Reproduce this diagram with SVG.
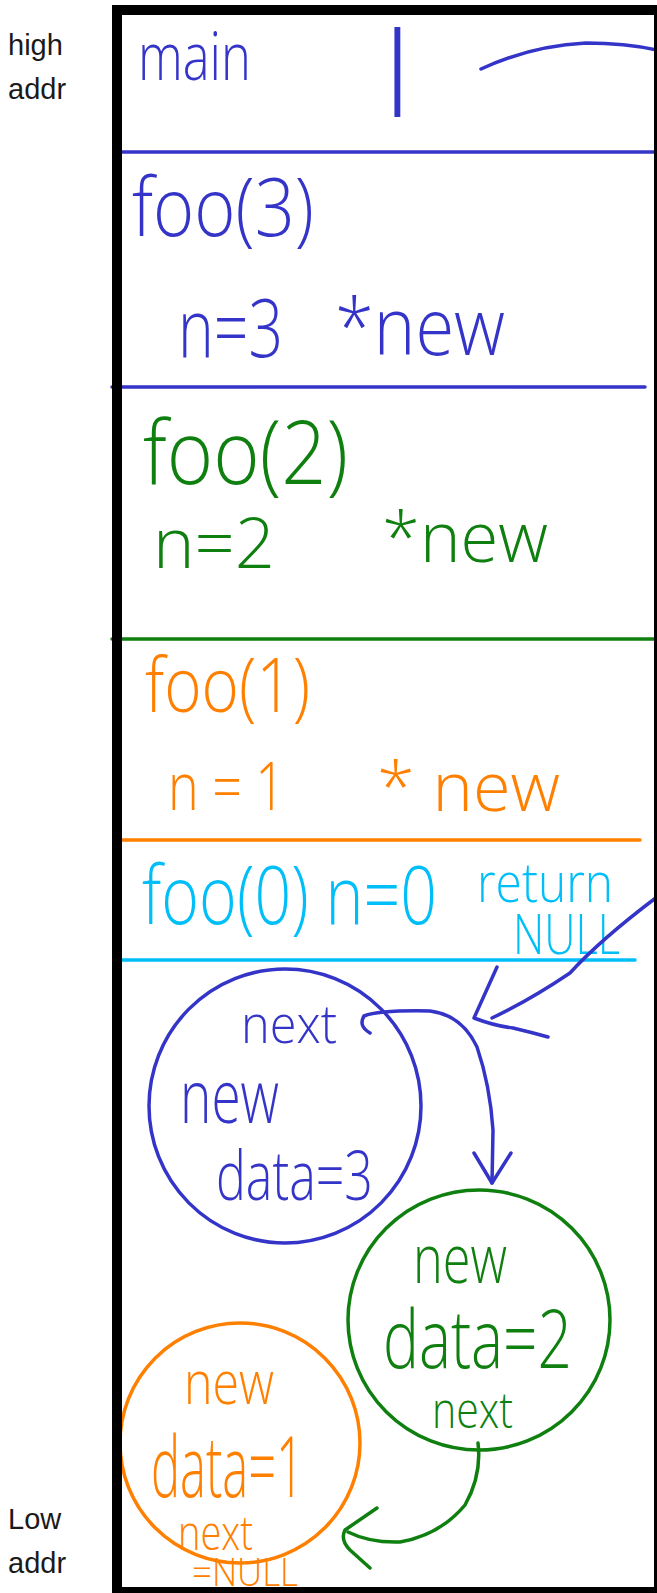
<svg xmlns="http://www.w3.org/2000/svg" width="657" height="1593" viewBox="0 0 657 1593">
<style>
.hw{font-family:"Open Sans",Lato,"DejaVu Sans",sans-serif;font-weight:300;}
.lbl{font-family:"Liberation Sans",Arial,sans-serif;font-size:29px;fill:#1a1a1a;}
.b{fill:#3434c8;} .g{fill:#0f7f0f;} .o{fill:#ff8000;} .c{fill:#00bff8;}
.sb{stroke:#3434c8;} .sg{stroke:#0f7f0f;} .so{stroke:#ff8000;} .sc{stroke:#00bff8;}
.ln{fill:none;stroke-width:3.5;stroke-linecap:round;stroke-linejoin:round;}
</style>
<rect width="657" height="1593" fill="#ffffff"/>

<g id="axis-labels">
<text class="lbl"><tspan x="8" y="55">high</tspan><tspan x="8" y="99">addr</tspan></text>
<text class="lbl"><tspan x="8" y="1529">Low</tspan><tspan x="8" y="1573">addr</tspan></text>
</g>

<g id="frame-main">
<text class="hw b" x="138" y="80" font-size="66" textLength="113" lengthAdjust="spacingAndGlyphs">main</text>
<text class="hw b" x="384" y="117" font-size="118">l</text>
<line class="ln sb" x1="116" y1="152" x2="657" y2="152"/>
</g>

<g id="frame-foo3">
<text class="hw b" x="132" y="236" font-size="82" textLength="182" lengthAdjust="spacingAndGlyphs">foo(3)</text>
<text class="hw b" x="178" y="357" font-size="82" textLength="105" lengthAdjust="spacingAndGlyphs">n=3</text>
<text class="hw b" x="335" y="355" font-size="80" textLength="170" lengthAdjust="spacingAndGlyphs">*new</text>
<line class="ln sb" x1="112" y1="387" x2="645" y2="387"/>
</g>

<g id="frame-foo2">
<text class="hw g" x="143" y="484" font-size="88" textLength="205" lengthAdjust="spacingAndGlyphs">foo(2)</text>
<text class="hw g" x="153" y="568" font-size="70" textLength="122" lengthAdjust="spacingAndGlyphs">n=2</text>
<text class="hw g" x="382" y="562" font-size="70" textLength="166" lengthAdjust="spacingAndGlyphs">*new</text>
<line class="ln sg" x1="112" y1="639" x2="657" y2="639"/>
</g>

<g id="frame-foo1">
<text class="hw o" x="145" y="712" font-size="76" textLength="165" lengthAdjust="spacingAndGlyphs">foo(1)</text>
<text class="hw o" x="168" y="810" font-size="66" textLength="117" lengthAdjust="spacingAndGlyphs">n = 1</text>
<text class="hw o" x="377" y="811" font-size="68" textLength="183" lengthAdjust="spacingAndGlyphs">* new</text>
<line class="ln so" x1="117" y1="840" x2="640" y2="840"/>
</g>

<g id="frame-foo0">
<text class="hw c" x="142" y="924" font-size="82" textLength="295" lengthAdjust="spacingAndGlyphs">foo(0) n=0</text>
<text class="hw c"><tspan x="477" y="902" font-size="56" textLength="136" lengthAdjust="spacingAndGlyphs">return</tspan><tspan x="513" y="954" font-size="56" textLength="107" lengthAdjust="spacingAndGlyphs">NULL</tspan></text>
<line class="ln sc" x1="117" y1="960" x2="635" y2="960"/>
</g>

<g id="node-3">
<ellipse class="ln sb" cx="285" cy="1106" rx="136" ry="137" stroke-width="3"/>
<text class="hw b"><tspan x="241" y="1043" font-size="54" textLength="96" lengthAdjust="spacingAndGlyphs">next</tspan><tspan x="180" y="1123" font-size="74" textLength="99" lengthAdjust="spacingAndGlyphs">new</tspan><tspan x="216" y="1200" font-size="68" textLength="157" lengthAdjust="spacingAndGlyphs">data=3</tspan></text>
</g>

<g id="node-2">
<ellipse class="ln sg" cx="479" cy="1320" rx="131" ry="130" stroke-width="3"/>
<text class="hw g"><tspan x="413" y="1283" font-size="68" textLength="94" lengthAdjust="spacingAndGlyphs">new</tspan><tspan x="383" y="1368" font-size="82" textLength="189" lengthAdjust="spacingAndGlyphs">data=2</tspan><tspan x="432" y="1428" font-size="50" textLength="81" lengthAdjust="spacingAndGlyphs">next</tspan></text>
</g>

<g id="node-1">
<ellipse class="ln so" cx="240" cy="1443" rx="120" ry="120" stroke-width="3"/>
<text class="hw o"><tspan x="184" y="1404" font-size="60" textLength="90" lengthAdjust="spacingAndGlyphs">new</tspan><tspan x="151" y="1497" font-size="84" textLength="153" lengthAdjust="spacingAndGlyphs">data=1</tspan><tspan x="178" y="1550" font-size="48" textLength="75" lengthAdjust="spacingAndGlyphs">next</tspan><tspan x="192" y="1586" font-size="38" textLength="106" lengthAdjust="spacingAndGlyphs">=NULL</tspan></text>
</g>

<g id="connectors">
<path class="ln sb" d="M481,69 Q530,46 586,43 Q625,43 657,50"/>
<path class="ln sb" d="M657,897 Q600,940 570,973 Q530,1000 492,1018"/>
<path class="ln sb" d="M497,967 L474,1018 Q495,1026 513,1028 Q530,1032 548,1037"/>
<path class="ln sb" d="M370,1033 Q358,1026 364,1016 Q380,1010 430,1011 Q462,1015 477,1047 Q490,1085 493,1130 L492,1183"/>
<path class="ln sb" d="M474,1153 L492,1183 L511,1153"/>
<path class="ln sg" d="M478,1443 Q482,1475 465,1505 Q440,1535 400,1542 Q370,1543 348,1532"/>
<path class="ln sg" d="M377,1508 L345,1530 Q340,1540 350,1550 L370,1568"/>
</g>

<g id="stack-border">
<rect x="117" y="10" width="542" height="1582" fill="none" stroke="#000000" stroke-width="10"/>
</g>
</svg>
